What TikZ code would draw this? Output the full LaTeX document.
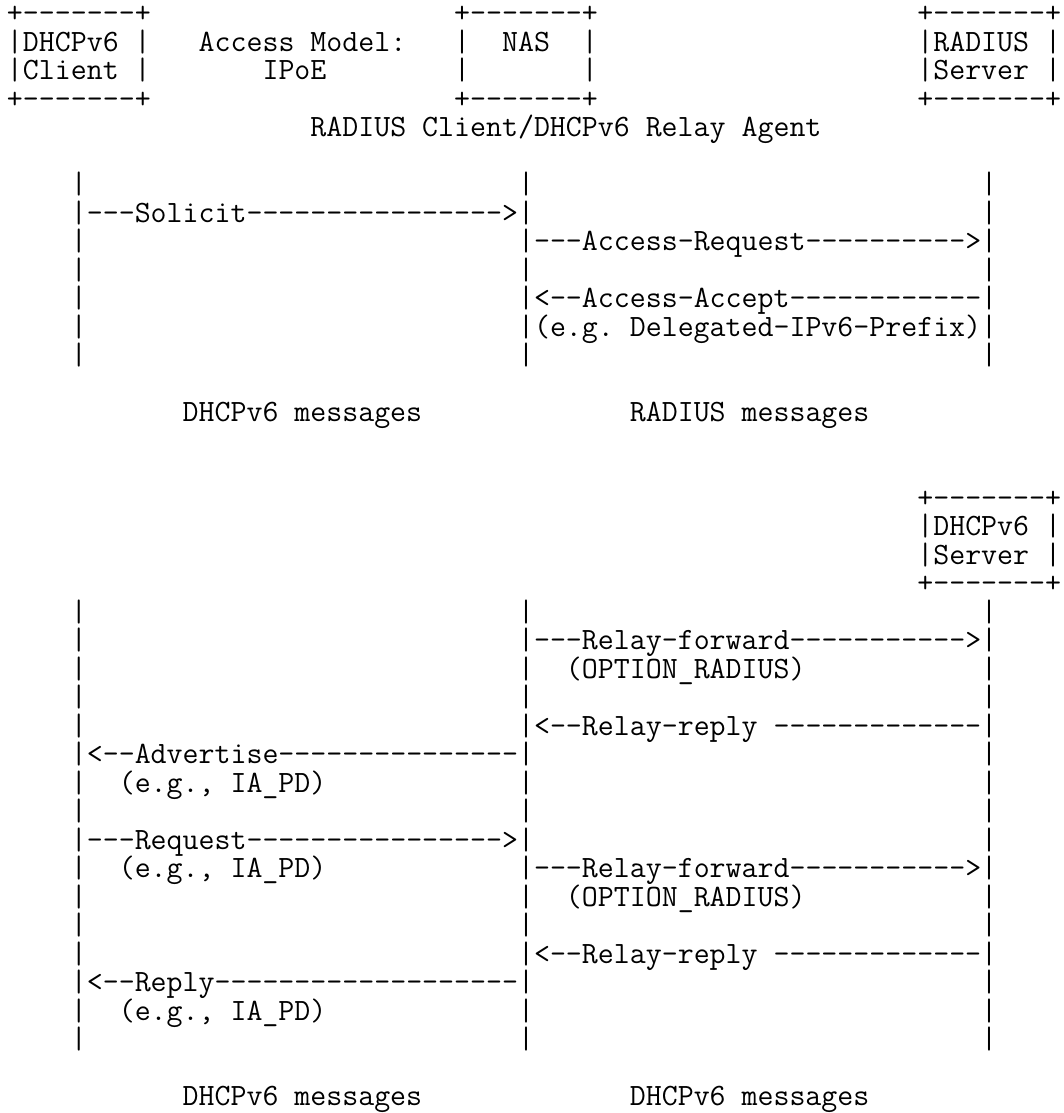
\documentclass[tikz,border=0pt]{standalone}
\usepackage{fontspec}
\usepackage{tikz}
\usetikzlibrary{positioning}

% monospace font, sized so that one character is 8pt wide
\newlength{\chw}
\newcommand{\asciipt}{15.24}
\newcommand{\asciifont}{\fontsize{\asciipt pt}{18pt}\selectfont\ttfamily\frenchspacing}

\begin{document}
\settowidth{\chw}{\asciifont M}
\pgfmathsetmacro{\asciipt}{15.24*8/\chw}
\begin{tikzpicture}[
  x=8pt, y=-14.275pt,
  txt/.style={anchor=base west, inner sep=0pt, outer sep=0pt, font=\asciifont}
]
\fill[white] (-0.4375,-0.8056) rectangle (66.125,38.179);

% --- Boxes ---
\node[txt] (CLIENT0) at (0,0)  {+-------+};
\node[txt] (CLIENT1) at (0,1)  {|DHCPv6 |};
\node[txt] (CLIENT2) at (0,2)  {|Client |};
\node[txt] (CLIENT3) at (0,3)  {+-------+};
\node[txt] (MODEL)   at (12,1) {Access Model:};
\node[txt] (IPOE)    at (16,2) {IPoE};
\node[txt] (NAS0)    at (28,0) {+-------+};
\node[txt] (NAS1)    at (28,1) {|~~NAS~~|};
\node[txt] (NAS2)    at (28,2) {|~~~~~~~|};
\node[txt] (NAS3)    at (28,3) {+-------+};
\node[txt] (RADIUS0) at (57,0) {+-------+};
\node[txt] (RADIUS1) at (57,1) {|RADIUS |};
\node[txt] (RADIUS2) at (57,2) {|Server |};
\node[txt] (RADIUS3) at (57,3) {+-------+};
\node[txt] (RELAY)   at (19,4) {RADIUS Client/DHCPv6 Relay Agent};
\node[txt] (DHCP0)   at (57,17) {+-------+};
\node[txt] (DHCP1)   at (57,18) {|DHCPv6 |};
\node[txt] (DHCP2)   at (57,19) {|Server |};
\node[txt] (DHCP3)   at (57,20) {+-------+};

% --- Lifelines ---
\foreach \a/\b in {6/12, 21/36} {
  \foreach \r in {\a,...,\b} {
    \node[txt] (CL-\r) at (4,\r)  {|};
    \node[txt] (NA-\r) at (32,\r) {|};
    \node[txt] (SV-\r) at (61,\r) {|};
  }
}

% --- Messages ---
\node[txt] (SOLICIT) at (5,7)   {---Solicit---------------->};
\node[txt] (ACCREQ)  at (33,8)  {---Access-Request---------->};
\node[txt] (ACCACC)  at (33,10) {<--Access-Accept------------};
\node[txt] (PREFIX)  at (33,11) {(e.g. Delegated-IPv6-Prefix)};
\node[txt] (DHCPMSG) at (11,14) {DHCPv6 messages};
\node[txt] (RADMSG)  at (39,14) {RADIUS messages};

\node[txt] (FWD1)    at (33,22) {---Relay-forward----------->};
\node[txt] (OPT1)    at (35,23) {(OPTION\_RADIUS)};
\node[txt] (REP1)    at (33,25) {<--Relay-reply~-------------};
\node[txt] (ADV)     at (5,26)  {<--Advertise---------------};
\node[txt] (ADVPD)   at (7,27)  {(e.g., IA\_PD)};
\node[txt] (REQ)     at (5,29)  {---Request---------------->};
\node[txt] (REQPD)   at (7,30)  {(e.g., IA\_PD)};
\node[txt] (FWD2)    at (33,30) {---Relay-forward----------->};
\node[txt] (OPT2)    at (35,31) {(OPTION\_RADIUS)};
\node[txt] (REP2)    at (33,33) {<--Relay-reply~-------------};
\node[txt] (REPLY)   at (5,34)  {<--Reply-------------------};
\node[txt] (REPLYPD) at (7,35)  {(e.g., IA\_PD)};
\node[txt] (DHCPL)   at (11,38) {DHCPv6 messages};
\node[txt] (DHCPR)   at (39,38) {DHCPv6 messages};

\end{tikzpicture}
\end{document}
